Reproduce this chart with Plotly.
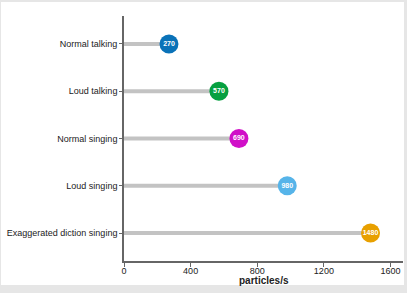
import plotly.graph_objects as go

categories = ["Normal talking", "Loud talking", "Normal singing", "Loud singing", "Exaggerated diction singing"]
values = [270, 570, 690, 980, 1480]
colors = ["#0a72b8", "#06a040", "#d010c8", "#56b4e9", "#e8a000"]
x_ticks = [0, 400, 800, 1200, 1600]
x_title = "particles/s"

fig = go.Figure()

# stems
for c, v in zip(categories, values):
    fig.add_trace(go.Scatter(x=[0, v], y=[c, c], mode="lines",
                             line=dict(color="#c3c3c3", width=4),
                             hoverinfo="skip", showlegend=False, cliponaxis=False))

fig.add_trace(go.Scatter(
    x=values, y=categories, mode="markers+text",
    marker=dict(size=19, color=colors, line=dict(width=0)),
    text=[str(v) for v in values], textposition="middle center",
    textfont=dict(family="Liberation Sans, Arial, sans-serif", size=7, color="white", weight="bold"),
    showlegend=False, cliponaxis=False))

W, H = 407, 293
l, r, t, b = 124, 4, 16, 32
pw, ph = W - l - r, H - t - b
# white panel (light grey frame around)
fig.add_shape(type="rect", xref="paper", yref="paper", layer="below",
              x0=(1 - l) / pw, x1=(404 - l) / pw,
              y0=(H - b - 285) / ph, y1=(H - b - 2) / ph,
              fillcolor="white", line=dict(width=0))

fig.add_annotation(text="<b>" + x_title + "</b>", xref="paper", yref="paper",
                   x=0.5, y=(H - b - 280) / ph, xanchor="center", yanchor="middle",
                   showarrow=False, font=dict(size=10, color="#222"))

fig.update_layout(
    width=W, height=H,
    margin=dict(l=l, r=r, t=t, b=b),
    paper_bgcolor="#e6e6e6", plot_bgcolor="rgba(0,0,0,0)",
    font=dict(family="Liberation Sans, Arial, sans-serif", size=9, color="#222"),
    xaxis=dict(range=[0, 1675], tickvals=x_ticks, ticks="outside", ticklen=4,
               tickcolor="#666", showgrid=False, zeroline=False, ticklabelstandoff=-4,
               showline=True, linecolor="#666", linewidth=1.6),
    yaxis=dict(categoryorder="array", categoryarray=categories,
               range=[4.59, -0.59], ticks="outside", ticklen=3, tickcolor="#666",
               showgrid=False, zeroline=False, showline=True, linecolor="#666", linewidth=1.6),
)

fig.write_html("out.html")
